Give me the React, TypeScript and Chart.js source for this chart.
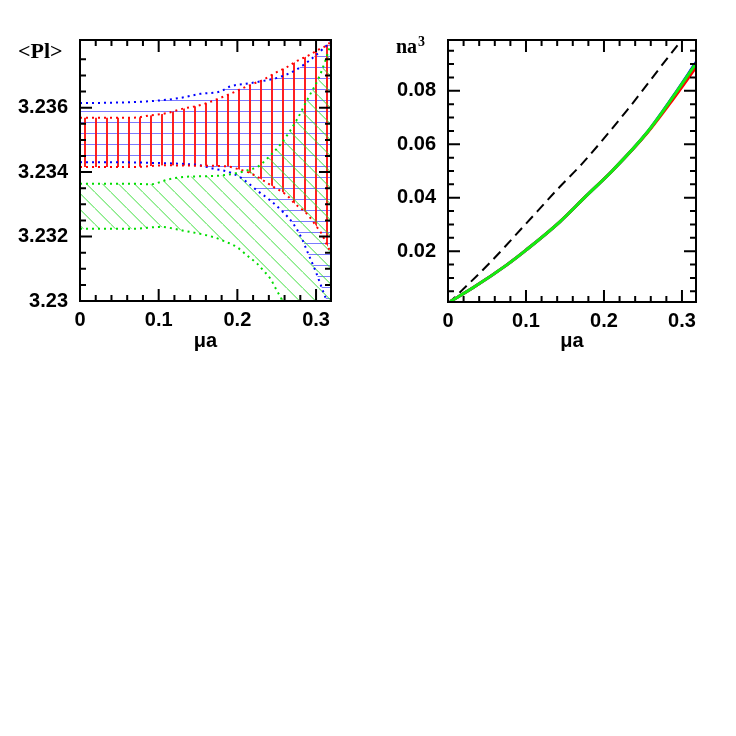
import React, { useEffect, useRef } from 'react';
import { Chart, registerables } from 'chart.js';

Chart.register(...registerables);

// ---------- Left panel: <Pl> bands (x = mu*a, y = <Pl>) ----------
const greenUpper: [number, number][] = [
  [0, 3.23364], [0.068, 3.23364], [0.089, 3.23362], [0.102, 3.23369], [0.11, 3.23376],
  [0.131, 3.23385], [0.152, 3.23387], [0.178, 3.23389], [0.195, 3.23395], [0.212, 3.23405],
  [0.2267, 3.23418], [0.237, 3.2344], [0.256, 3.2349], [0.275, 3.2356], [0.29, 3.2363],
  [0.303, 3.2369], [0.311, 3.2374], [0.319, 3.238],
];
const greenLower: [number, number][] = [
  [0, 3.23224], [0.068, 3.23224], [0.102, 3.2323], [0.13, 3.23219], [0.17, 3.23198],
  [0.186, 3.23183], [0.199, 3.23168], [0.212, 3.23142], [0.225, 3.23116], [0.233, 3.23095],
  [0.242, 3.23069], [0.25, 3.23033], [0.256, 3.23007], [0.27, 3.2293], [0.319, 3.227],
];
const redUpper: [number, number][] = [
  [0, 3.23569], [0.068, 3.23569], [0.089, 3.23576], [0.11, 3.23583], [0.131, 3.23597],
  [0.146, 3.23604], [0.161, 3.23614], [0.176, 3.23628], [0.191, 3.23643], [0.2055, 3.23659],
  [0.22, 3.23674], [0.233, 3.23687], [0.25, 3.2371], [0.263, 3.23726], [0.275, 3.23744],
  [0.292, 3.23764], [0.305, 3.23783], [0.316, 3.23798], [0.319, 3.2381],
];
const redLower: [number, number][] = [
  [0, 3.23416], [0.068, 3.23416], [0.11, 3.23421], [0.148, 3.2342], [0.186, 3.23418],
  [0.2, 3.2341], [0.218, 3.23395], [0.233, 3.23374], [0.246, 3.23354], [0.263, 3.23328],
  [0.273, 3.23302], [0.284, 3.23281], [0.29, 3.23266], [0.301, 3.2323], [0.307, 3.23209],
  [0.314, 3.23173], [0.319, 3.2315],
];
const blueUpper: [number, number][] = [
  [0, 3.23614], [0.05, 3.23616], [0.089, 3.2362], [0.127, 3.2363], [0.153, 3.23643],
  [0.178, 3.2365], [0.191, 3.23666], [0.216, 3.23676], [0.237, 3.23685], [0.254, 3.23695],
  [0.275, 3.23718], [0.292, 3.23747], [0.309, 3.23783], [0.319, 3.23805],
];
const blueLower: [number, number][] = [
  [0, 3.23431], [0.068, 3.2343], [0.1, 3.23428], [0.127, 3.23426], [0.1525, 3.23421],
  [0.169, 3.23411], [0.182, 3.23405], [0.195, 3.23395], [0.203, 3.23385], [0.212, 3.23369],
  [0.225, 3.23343], [0.242, 3.23312], [0.258, 3.23276], [0.271, 3.2324], [0.282, 3.23193],
  [0.29, 3.23147], [0.299, 3.23095], [0.307, 3.23043], [0.314, 3.22997], [0.319, 3.2296],
];

// ---------- Right panel: n a^3 ----------
const naGreen: [number, number][] = [
  [0.003, 0.0012], [0.032, 0.0063], [0.075, 0.0148], [0.1, 0.0204], [0.1434, 0.031],
  [0.1766, 0.0405], [0.2117, 0.0504], [0.2547, 0.0642], [0.2889, 0.0779], [0.318, 0.0903],
];
const naRed: [number, number][] = [
  [0.003, 0.0012], [0.032, 0.0063], [0.075, 0.0148], [0.1, 0.0204], [0.1434, 0.031],
  [0.1766, 0.0405], [0.2117, 0.0504], [0.2547, 0.064], [0.2889, 0.077], [0.318, 0.0888],
];
const naBlue: [number, number][] = [
  [0.003, 0.0012], [0.032, 0.0063], [0.075, 0.0148], [0.1, 0.0204], [0.1434, 0.031],
  [0.1766, 0.0405], [0.2117, 0.0504], [0.2547, 0.0642], [0.2889, 0.078], [0.318, 0.0906],
];
const naFree: [number, number][] = [
  [0, 0.0003], [0.0535, 0.0156], [0.0963, 0.0291], [0.1434, 0.0441], [0.1712, 0.0525],
  [0.229, 0.0725], [0.2952, 0.0973], [0.2996, 0.0988],
];

// ---------- Tick values ----------
const leftXLabels = [0, 0.1, 0.2, 0.3];
const leftXMinor = [0.02, 0.04, 0.06, 0.08, 0.12, 0.14, 0.16, 0.18, 0.22, 0.24, 0.26, 0.28];
const leftYLabels = [3.23, 3.232, 3.234, 3.236];
const leftYMinor = [3.2305, 3.231, 3.2315, 3.2325, 3.233, 3.2335, 3.2345, 3.235, 3.2355, 3.2365, 3.237, 3.2375];
const rightXLabels = [0, 0.1, 0.2, 0.3];
const rightXMinor = leftXMinor;
const rightYLabels = [0.02, 0.04, 0.06, 0.08];
const rightYMinor = [0.005, 0.01, 0.015, 0.025, 0.03, 0.035, 0.045, 0.05, 0.055, 0.065, 0.07, 0.075, 0.085, 0.09, 0.095];

const SANS = "'Liberation Sans', Arial, Helvetica, sans-serif";
const SERIF = "'Liberation Serif', 'Times New Roman', serif";
const tickFont = { family: SANS, size: 20, weight: 'bold' as const };

const fmt = (v: any) => String(parseFloat(Number(v).toFixed(4)));
const pts = (a: [number, number][]) => a.map(([x, y]) => ({ x, y }));

function makePattern(w: number, h: number, draw: (g: CanvasRenderingContext2D) => void) {
  const c = document.createElement('canvas');
  c.width = w;
  c.height = h;
  const g = c.getContext('2d')!;
  draw(g);
  return g.createPattern(c, 'repeat')!;
}

const frameTicks = {
  id: 'frameTicks',
  afterDraw(chart: any, _args: any, opts: any) {
    const { ctx, chartArea: a, scales } = chart;
    const xs = scales.x;
    const ys = scales.y;
    ctx.save();
    ctx.strokeStyle = '#000';
    ctx.lineWidth = 2;
    ctx.lineCap = 'butt';
    const xt = (vals: number[], len: number) => {
      for (const v of vals) {
        const p = xs.getPixelForValue(v);
        if (p < a.left - 0.5 || p > a.right + 0.5) continue;
        ctx.beginPath();
        ctx.moveTo(p, a.bottom);
        ctx.lineTo(p, a.bottom - len);
        ctx.moveTo(p, a.top);
        ctx.lineTo(p, a.top + len);
        ctx.stroke();
      }
    };
    const yt = (vals: number[], len: number) => {
      for (const v of vals) {
        const p = ys.getPixelForValue(v);
        if (p < a.top - 0.5 || p > a.bottom + 0.5) continue;
        ctx.beginPath();
        ctx.moveTo(a.left, p);
        ctx.lineTo(a.left + len, p);
        ctx.moveTo(a.right, p);
        ctx.lineTo(a.right - len, p);
        ctx.stroke();
      }
    };
    xt(opts.xMajor, 12);
    xt(opts.xMinor, 6);
    yt(opts.yMajor, 12);
    yt(opts.yMinor, 6);
    ctx.strokeRect(a.left, a.top, a.right - a.left, a.bottom - a.top);
    ctx.fillStyle = '#000';
    ctx.textAlign = 'left';
    ctx.textBaseline = 'middle';
    ctx.font = opts.labelFont;
    ctx.fillText(opts.label, opts.labelX, opts.labelY);
    if (opts.sup) {
      const w = ctx.measureText(opts.label).width;
      ctx.font = opts.supFont;
      ctx.fillText(opts.sup, opts.labelX + w + 1, opts.labelY - 6);
    }
    ctx.restore();
  },
};

function dotted(data: [number, number][], color: string, fill: any, bg: any) {
  return {
    data: pts(data),
    borderColor: color,
    borderWidth: 2,
    borderDash: [2, 4],
    pointRadius: 0,
    fill,
    backgroundColor: bg,
    cubicInterpolationMode: 'monotone' as const,
    clip: 0,
  };
}

function scalesFor(xmax: number, ymin: number, ymax: number, xl: number[], yl: number[], xh: number) {
  return {
    x: {
      type: 'linear' as const,
      min: 0,
      max: xmax,
      grid: { display: false, drawTicks: false },
      border: { display: false },
      afterBuildTicks: (s: any) => { s.ticks = xl.map((value) => ({ value })); },
      afterFit: (s: any) => { s.height = xh; },
      ticks: { font: tickFont, color: '#000', padding: 7, callback: fmt, maxRotation: 0, autoSkip: false },
      title: { display: true, text: 'μa', font: tickFont, color: '#000', padding: { top: 0, bottom: 15 } },
    },
    y: {
      type: 'linear' as const,
      min: ymin,
      max: ymax,
      grid: { display: false, drawTicks: false },
      border: { display: false },
      afterBuildTicks: (s: any) => { s.ticks = yl.map((value) => ({ value })); },
      afterFit: (s: any) => { s.width = 80; },
      ticks: { font: tickFont, color: '#000', padding: 12, callback: fmt, autoSkip: false },
    },
  };
}

export default function App() {
  const leftRef = useRef<HTMLCanvasElement>(null);
  const rightRef = useRef<HTMLCanvasElement>(null);

  useEffect(() => {
    const redPat = makePattern(11, 4, (g) => {
      g.fillStyle = 'rgba(255,20,20,0.95)';
      g.fillRect(7, 0, 2, 4);
    });
    const bluePat = makePattern(4, 11, (g) => {
      g.fillStyle = 'rgba(90,90,255,0.8)';
      g.fillRect(0, 1, 4, 1);
    });
    const greenPat = makePattern(16, 16, (g) => {
      g.strokeStyle = 'rgba(40,220,40,0.9)';
      g.lineWidth = 1;
      const off = 14.6;
      for (let k = -2; k <= 1; k++) {
        g.beginPath();
        g.moveTo(off + 16 * k, 0);
        g.lineTo(off + 16 * k + 16, 16);
        g.stroke();
      }
    });

    const left = new Chart(leftRef.current!, {
      type: 'line',
      data: {
        datasets: [
          dotted(greenUpper, '#00dd00', '+1', greenPat),
          dotted(greenLower, '#00dd00', false, 'transparent'),
          dotted(redUpper, '#ff0000', '+1', redPat),
          dotted(redLower, '#ff0000', false, 'transparent'),
          dotted(blueUpper, '#0000ff', '+1', bluePat),
          dotted(blueLower, '#0000ff', false, 'transparent'),
        ] as any,
      },
      options: {
        responsive: false,
        animation: false,
        layout: { padding: { left: 0, right: 37, top: 40, bottom: 0 } },
        plugins: {
          legend: { display: false },
          tooltip: { enabled: false },
          filler: { drawTime: 'beforeDatasetsDraw' },
          frameTicks: {
            xMajor: leftXLabels, xMinor: leftXMinor, yMajor: leftYLabels, yMinor: leftYMinor,
            label: '<Pl>', labelX: 18, labelY: 52, labelFont: `bold 22px ${SERIF}`,
          },
        } as any,
        scales: scalesFor(0.319, 3.23, 3.2381, leftXLabels, leftYLabels, 67),
      },
      plugins: [frameTicks],
    });

    const line = (data: [number, number][], color: string, w: number, dash: number[] = []) => ({
      data: pts(data),
      borderColor: color,
      borderWidth: w,
      borderDash: dash,
      pointRadius: 0,
      fill: false,
      cubicInterpolationMode: 'monotone' as const,
      clip: 0,
    });

    const right = new Chart(rightRef.current!, {
      type: 'line',
      data: {
        datasets: [
          line(naGreen, '#11ee11', 3),
          line(naRed, '#ff0000', 3),
          line(naBlue, '#0000ff', 3),
          line(naFree, '#000000', 2, [10, 6]),
        ] as any,
      },
      options: {
        responsive: false,
        animation: false,
        layout: { padding: { left: 0, right: 40, top: 40, bottom: 0 } },
        plugins: {
          legend: { display: false },
          tooltip: { enabled: false },
          frameTicks: {
            xMajor: rightXLabels, xMinor: rightXMinor, yMajor: rightYLabels, yMinor: rightYMinor,
            label: 'na', labelX: 28, labelY: 48, labelFont: `bold 20px ${SERIF}`,
            sup: '3', supFont: `bold 14px ${SERIF}`,
          },
        } as any,
        scales: scalesFor(0.318, 0.001, 0.099, rightXLabels, rightYLabels, 66),
      },
      plugins: [frameTicks],
    });

    return () => {
      left.destroy();
      right.destroy();
    };
  }, []);

  return (
    <div style={{ position: 'absolute', left: 0, top: 0, width: 736, height: 736, background: '#fff' }}>
      <canvas ref={leftRef} width={368} height={368} style={{ position: 'absolute', left: 0, top: 0 }} />
      <canvas ref={rightRef} width={368} height={368} style={{ position: 'absolute', left: 368, top: 0 }} />
    </div>
  );
}
